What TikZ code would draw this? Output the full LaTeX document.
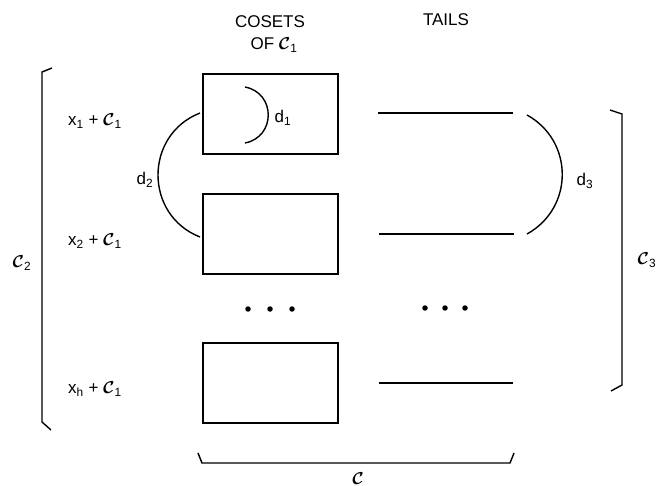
\documentclass[tikz,border=0pt]{standalone}
\usepackage{fontspec}
\setmainfont{Liberation Sans}
\newcommand{\cC}{{\boldmath$\mathcal{C}$}}
\tikzset{
  coset/.style={draw, line width=1.8pt, minimum width=135pt, minimum height=80pt, inner sep=0pt},
  lbl/.style={font=\fontsize{17}{19}\selectfont, inner sep=0pt},
  ln/.style={line width=1.9pt},
  thin/.style={line width=1.4pt},
  dotn/.style={circle, fill, inner sep=0pt, minimum size=5.5pt}
}
\begin{document}
\begin{tikzpicture}[x=1pt,y=-1pt]
\useasboundingbox (0,0) rectangle (661,486);
% headers
\node[lbl] (hcos) at (270,22) {COSETS};
\node[lbl] (hof) at (274,45) {OF \cC\textsubscript{1}};
\node[lbl] (htails) at (446,20) {TAILS};
% boxes
\node[coset] (b1) at (270.5,114) {};
\node[coset] (b2) at (270.5,234) {};
\node[coset] (b3) at (270.5,383) {};
% tails
\coordinate (t1a) at (378,113); \coordinate (t1b) at (513,113);
\coordinate (t2a) at (379,234); \coordinate (t2b) at (514,234);
\coordinate (t3a) at (379,383); \coordinate (t3b) at (513,383);
\draw[ln] (t1a) -- (t1b);
\draw[ln] (t2a) -- (t2b);
\draw[ln] (t3a) -- (t3b);
% dots
\node[dotn] (c1) at (248,309) {};
\node[dotn] (c2) at (270,309) {};
\node[dotn] (c3) at (292,309) {};
\node[dotn] (e1) at (425,308) {};
\node[dotn] (e2) at (445,308) {};
\node[dotn] (e3) at (465,308) {};
% row labels
\node[lbl, anchor=west] (r1) at (68,121) {x\textsubscript{1} + \cC\textsubscript{1}};
\node[lbl, anchor=west] (r2) at (68,241) {x\textsubscript{2} + \cC\textsubscript{1}};
\node[lbl, anchor=west] (r3) at (68,389) {x\textsubscript{h} + \cC\textsubscript{1}};
% d1 arc
\coordinate (d1a) at (245,87); \coordinate (d1b) at (245,143);
\draw[thin] (d1a) .. controls (276,93) and (276,137) .. (d1b);
\node[lbl] (d1) at (283,118) {d\textsubscript{1}};
% d2 arc
\coordinate (d2a) at (200,113); \coordinate (d2b) at (200,237);
\draw[thin] (d2a) .. controls (144,135) and (144,215) .. (d2b);
\node[lbl] (d2) at (145,180) {d\textsubscript{2}};
% d3 arc
\coordinate (d3a) at (527,115); \coordinate (d3b) at (527,234);
\draw[thin] (d3a) .. controls (574,141) and (574,208) .. (d3b);
\node[lbl] (d3) at (585,181) {d\textsubscript{3}};
% C2 bracket
\coordinate (L1) at (52,68); \coordinate (L2) at (42,72);
\coordinate (L3) at (42,422); \coordinate (L4) at (51,430);
\draw[thin] (L1) -- (L2) -- (L3) -- (L4);
\node[lbl] (cc2) at (22,263) {\cC\textsubscript{2}};
% C3 bracket
\coordinate (R1) at (610,110); \coordinate (R2) at (622,114);
\coordinate (R3) at (622,385); \coordinate (R4) at (611,391);
\draw[thin] (R1) -- (R2) -- (R3) -- (R4);
\node[lbl] (cc3) at (647,260) {\cC\textsubscript{3}};
% bottom brace
\coordinate (B1) at (198,453); \coordinate (B2) at (202,463);
\coordinate (B3) at (510,463); \coordinate (B4) at (514,453);
\draw[thin] (B1) -- (B2) -- (B3) -- (B4);
\node[lbl] (cc) at (358,479) {\cC};
\end{tikzpicture}
\end{document}
